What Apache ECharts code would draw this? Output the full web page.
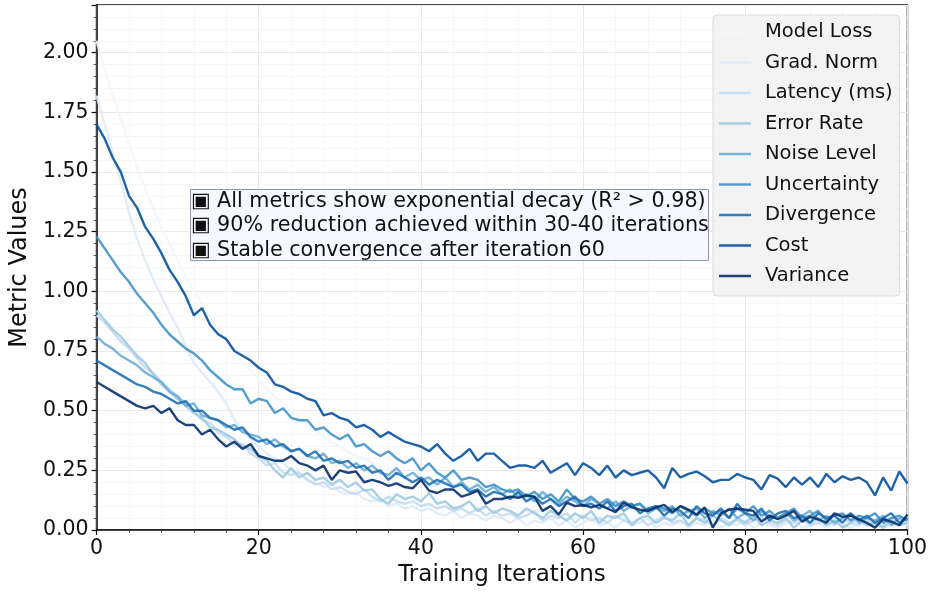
<!DOCTYPE html>
<html>
<head>
<meta charset="utf-8">
<title>Metric convergence</title>
<script src="https://cdn.jsdelivr.net/npm/echarts/dist/echarts.min.js"></script>
<style>
  html, body { margin: 0; padding: 0; background: #fff; }
  #chart { width: 930px; height: 592px; }
</style>
</head>
<body>
<div id="chart"></div>
<script>
// iterations on the x axis
const iterations = [
  0,1,2,3,4,5,6,7,8,9,10,11,12,13,14,15,16,17,18,19,20,21,22,23,24,25,26,27,28,29,
  30,31,32,33,34,35,36,37,38,39,40,41,42,43,44,45,46,47,48,49,50,51,52,53,54,55,56,57,58,59,
  60,61,62,63,64,65,66,67,68,69,70,71,72,73,74,75,76,77,78,79,80,81,82,83,84,85,86,87,88,89,
  90,91,92,93,94,95,96,97,98,99,100
]

const seriesNames = ['Model Loss', 'Grad. Norm', 'Latency (ms)', 'Error Rate', 'Noise Level',
  'Uncertainty', 'Divergence', 'Cost', 'Variance']

// Blues colormap, light -> dark
const seriesColors = ['#f2f7fd', '#deebf7', '#c6dbef', '#9ecae1', '#6baed6',
  '#4292c6', '#2171b5', '#08519c', '#08306b']

const modelLoss = [2.05,1.93,1.82,1.72,1.62,1.52,1.43,1.35,1.27,1.20,
  1.13,1.06,1.00,0.95,0.89,0.84,0.79,0.75,0.70,0.67,
  0.63,0.59,0.56,0.53,0.50,0.47,0.44,0.42,0.39,0.37,
  0.35,0.33,0.31,0.30,0.28,0.26,0.25,0.24,0.22,0.21,
  0.20,0.18,0.18,0.16,0.16,0.14,0.14,0.12,0.12,0.11,
  0.11,0.09,0.10,0.08,0.09,0.07,0.08,0.06,0.07,0.05,
  0.07,0.05,0.06,0.04,0.06,0.04,0.05,0.03,0.05,0.04,
  0.03,0.05,0.02,0.04,0.03,0.05,0.02,0.04,0.03,0.02,
  0.05,0.03,0.02,0.04,0.06,0.02,0.03,0.05,0.02,0.04,
  0.03,0.05,0.02,0.04,0.03,0.06,0.02,0.04,0.03,0.05,
  0.03]

const gradNorm = [1.82,1.70,1.58,1.46,1.33,1.22,1.13,1.05,0.98,0.91,
  0.85,0.77,0.70,0.66,0.62,0.58,0.53,0.46,0.42,0.38,
  0.35,0.32,0.30,0.28,0.25,0.24,0.21,0.20,0.18,0.19,
  0.16,0.15,0.16,0.13,0.12,0.13,0.10,0.11,0.09,0.10,
  0.08,0.09,0.07,0.06,0.08,0.05,0.07,0.06,0.04,0.06,
  0.05,0.03,0.05,0.02,0.04,0.03,0.05,0.02,0.04,0.01,
  0.03,0.05,0.02,0.03,0.01,0.04,0.02,0.03,0.05,0.01,
  0.03,0.02,0.04,0.01,0.03,0.02,0.04,0.01,0.03,0.02,
  0.04,0.01,0.03,0.02,0.01,0.03,0.04,0.01,0.02,0.03,
  0.01,0.04,0.02,0.01,0.03,0.02,0.04,0.01,0.02,0.03,
  0.02]

const latency = [0.90,0.87,0.83,0.79,0.76,0.72,0.68,0.66,0.62,0.59,
  0.56,0.53,0.50,0.46,0.45,0.41,0.39,0.36,0.36,0.32,
  0.30,0.27,0.28,0.24,0.23,0.24,0.21,0.19,0.20,0.17,
  0.18,0.16,0.15,0.17,0.14,0.12,0.14,0.12,0.11,0.12,
  0.10,0.11,0.09,0.10,0.08,0.09,0.07,0.09,0.06,0.08,
  0.06,0.07,0.05,0.06,0.08,0.04,0.06,0.05,0.07,0.03,
  0.06,0.04,0.05,0.03,0.06,0.04,0.03,0.05,0.02,0.04,
  0.06,0.03,0.04,0.02,0.05,0.04,0.02,0.05,0.03,0.04,
  0.02,0.04,0.05,0.03,0.02,0.04,0.03,0.05,0.02,0.03,
  0.04,0.02,0.05,0.03,0.02,0.04,0.03,0.02,0.05,0.03,
  0.04]

const errorRate = [0.92,0.88,0.84,0.81,0.77,0.73,0.70,0.65,0.61,0.58,
  0.55,0.52,0.49,0.47,0.43,0.42,0.40,0.38,0.35,0.34,
  0.31,0.29,0.25,0.22,0.26,0.22,0.24,0.21,0.22,0.19,
  0.21,0.18,0.20,0.165,0.17,0.13,0.11,0.15,0.13,0.14,
  0.12,0.155,0.11,0.12,0.09,0.10,0.12,0.08,0.10,0.07,
  0.09,0.08,0.06,0.09,0.07,0.05,0.08,0.06,0.04,0.07,
  0.05,0.08,0.03,0.06,0.05,0.07,0.02,0.05,0.06,0.03,
  0.05,0.04,0.07,0.02,0.05,0.03,0.06,0.04,0.02,0.05,
  0.03,0.06,0.02,0.04,0.03,0.05,0.01,0.04,0.03,0.05,
  0.02,0.04,0.01,0.03,0.05,0.02,0.03,0.01,0.04,0.02,
  0.03]

const noiseLevel = [0.81,0.78,0.76,0.73,0.71,0.69,0.66,0.64,0.62,0.58,
  0.56,0.52,0.53,0.48,0.47,0.46,0.43,0.44,0.41,0.40,
  0.39,0.36,0.38,0.35,0.33,0.34,0.31,0.30,0.32,0.28,
  0.29,0.26,0.28,0.25,0.27,0.24,0.23,0.26,0.22,0.24,
  0.21,0.22,0.19,0.22,0.18,0.20,0.17,0.19,0.16,0.18,
  0.15,0.17,0.14,0.15,0.12,0.16,0.13,0.11,0.14,0.12,
  0.10,0.13,0.11,0.09,0.12,0.08,0.10,0.11,0.07,0.09,
  0.08,0.10,0.06,0.08,0.09,0.05,0.08,0.06,0.09,0.05,
  0.07,0.04,0.08,0.06,0.05,0.07,0.04,0.06,0.08,0.04,
  0.06,0.03,0.05,0.07,0.03,0.05,0.04,0.06,0.02,0.05,
  0.04]

const uncertainty = [1.23,1.18,1.13,1.08,1.04,0.99,0.95,0.91,0.86,0.82,
  0.79,0.76,0.74,0.71,0.67,0.64,0.61,0.59,0.59,0.53,
  0.55,0.54,0.49,0.51,0.47,0.46,0.46,0.42,0.43,0.40,
  0.38,0.40,0.35,0.36,0.33,0.31,0.33,0.30,0.28,0.30,
  0.25,0.28,0.24,0.22,0.25,0.21,0.22,0.21,0.18,0.19,
  0.17,0.16,0.17,0.14,0.16,0.13,0.15,0.12,0.17,0.13,
  0.12,0.14,0.11,0.13,0.10,0.12,0.10,0.11,0.08,0.10,
  0.09,0.07,0.10,0.08,0.06,0.09,0.07,0.08,0.05,0.09,
  0.07,0.10,0.06,0.08,0.05,0.07,0.09,0.05,0.06,0.08,
  0.04,0.06,0.07,0.04,0.06,0.05,0.07,0.03,0.05,0.06,
  0.04]

const divergence = [0.71,0.69,0.67,0.65,0.63,0.61,0.60,0.58,0.57,0.55,
  0.53,0.54,0.50,0.50,0.47,0.46,0.44,0.42,0.43,0.39,
  0.37,0.38,0.35,0.36,0.33,0.34,0.31,0.33,0.29,0.30,
  0.28,0.29,0.26,0.27,0.24,0.25,0.21,0.24,0.22,0.20,
  0.22,0.19,0.21,0.195,0.18,0.19,0.16,0.17,0.14,0.16,
  0.15,0.13,0.16,0.12,0.14,0.11,0.13,0.10,0.12,0.14,
  0.10,0.11,0.09,0.12,0.08,0.10,0.11,0.07,0.09,0.10,
  0.06,0.09,0.08,0.05,0.10,0.07,0.06,0.09,0.05,0.11,
  0.07,0.06,0.09,0.04,0.07,0.08,0.05,0.06,0.03,0.07,
  0.05,0.06,0.03,0.07,0.04,0.06,0.03,0.05,0.07,0.03,
  0.05]

const cost = [1.70,1.64,1.56,1.50,1.40,1.35,1.27,1.22,1.16,1.09,
  1.04,0.98,0.90,0.93,0.86,0.82,0.80,0.75,0.73,0.71,
  0.68,0.66,0.61,0.60,0.58,0.57,0.55,0.54,0.48,0.49,
  0.47,0.46,0.43,0.44,0.42,0.39,0.41,0.39,0.37,0.36,
  0.35,0.33,0.36,0.32,0.29,0.31,0.34,0.29,0.32,0.32,
  0.29,0.26,0.27,0.27,0.26,0.29,0.24,0.26,0.28,0.23,
  0.28,0.26,0.23,0.27,0.22,0.25,0.23,0.24,0.25,0.22,
  0.175,0.26,0.22,0.235,0.245,0.225,0.20,0.21,0.21,0.235,
  0.22,0.21,0.17,0.23,0.215,0.18,0.22,0.19,0.22,0.18,
  0.235,0.20,0.225,0.21,0.22,0.20,0.145,0.22,0.165,0.245,
  0.195]

const variance = [0.62,0.60,0.58,0.56,0.54,0.52,0.51,0.52,0.49,0.51,
  0.46,0.44,0.44,0.40,0.42,0.38,0.35,0.37,0.34,0.36,
  0.31,0.30,0.29,0.29,0.31,0.28,0.27,0.25,0.27,0.21,
  0.25,0.24,0.245,0.20,0.21,0.20,0.185,0.195,0.18,0.175,
  0.21,0.165,0.155,0.17,0.17,0.14,0.15,0.165,0.11,0.13,
  0.13,0.14,0.135,0.145,0.14,0.08,0.10,0.065,0.115,0.10,
  0.105,0.095,0.105,0.09,0.075,0.115,0.095,0.085,0.08,0.095,
  0.105,0.075,0.10,0.085,0.065,0.095,0.01,0.07,0.085,0.09,
  0.085,0.08,0.035,0.06,0.045,0.06,0.08,0.035,0.055,0.045,
  0.03,0.07,0.055,0.06,0.045,0.03,0.01,0.045,0.035,0.02,
  0.065]

const seriesValues = [modelLoss, gradNorm, latency, errorRate, noiseLevel,
  uncertainty, divergence, cost, variance]

const notes = [
  '▣ All metrics show exponential decay (R² > 0.98)',
  '▣ 90% reduction achieved within 30-40 iterations',
  '▣ Stable convergence after iteration 60'
]

const fontFamily = 'DejaVu Sans'

const chart = echarts.init(document.getElementById('chart'), null, { renderer: 'canvas' })

const series = seriesNames.map(function (name, i) {
  return {
    name: name,
    type: 'line',
    symbol: 'none',
    animation: false,
    data: iterations.map(function (x, j) { return [x, seriesValues[i][j]] }),
    lineStyle: { color: seriesColors[i], width: 2.4, opacity: 0.9 },
    itemStyle: { color: seriesColors[i] }
  }
})

chart.setOption({
  animation: false,
  textStyle: { fontFamily: fontFamily },
  grid: {
    left: 92,
    right: 22,
    top: 5,
    bottom: 62,
    show: true,
    borderColor: '#111',
    borderWidth: 1.5,
    backgroundColor: 'transparent'
  },
  xAxis: {
    type: 'value',
    min: 0,
    max: 100,
    interval: 20,
    name: 'Training Iterations',
    nameLocation: 'middle',
    nameGap: 33,
    nameTextStyle: { fontSize: 23, color: '#111', fontFamily: fontFamily },
    axisLine: { show: true, lineStyle: { color: '#111', width: 1.5 } },
    axisTick: { show: true, length: 5, lineStyle: { color: '#111', width: 1.2 } },
    minorTick: { show: true, splitNumber: 5, length: 3, lineStyle: { color: '#333', width: 0.8 } },
    axisLabel: { fontSize: 20.5, color: '#111', margin: 8, fontFamily: fontFamily },
    splitLine: { show: true, lineStyle: { color: '#e9e9e9', width: 1 } },
    minorSplitLine: { show: true, lineStyle: { color: '#f5f5f5', width: 0.8 } }
  },
  yAxis: {
    type: 'value',
    min: 0,
    max: 2.2,
    interval: 0.25,
    name: 'Metric Values',
    nameLocation: 'middle',
    nameGap: 53,
    nameTextStyle: { fontSize: 24, color: '#111', fontFamily: fontFamily },
    axisLine: { show: true, lineStyle: { color: '#111', width: 1.5 } },
    axisTick: { show: true, length: 5, lineStyle: { color: '#111', width: 1.2 } },
    minorTick: { show: true, splitNumber: 5, length: 3, lineStyle: { color: '#333', width: 0.8 } },
    axisLabel: {
      fontSize: 20.5,
      color: '#111',
      margin: 8,
      fontFamily: fontFamily,
      showMaxLabel: false,
      formatter: function (v) { return v.toFixed(2) }
    },
    splitLine: { show: true, lineStyle: { color: '#e9e9e9', width: 1 } },
    minorSplitLine: { show: true, lineStyle: { color: '#f5f5f5', width: 0.8 } }
  },
  legend: {
    orient: 'vertical',
    left: 713,
    top: 15,
    padding: [7, 7, 10, 6],
    icon: 'rect',
    itemWidth: 32,
    itemHeight: 2.5,
    itemGap: 10.5,
    itemStyle: { opacity: 0.9 },
    backgroundColor: 'rgba(242,242,242,0.92)',
    borderColor: '#dddddd',
    borderWidth: 1,
    borderRadius: 4,
    textStyle: { fontSize: 19.5, color: '#111', lineHeight: 20, fontFamily: fontFamily, padding: [0, 0, 0, 9] },
    data: seriesNames
  },
  graphic: [
    {
      type: 'rect',
      left: 190,
      top: 189,
      shape: { width: 518, height: 71 },
      style: { fill: 'rgba(244,248,254,0.95)', stroke: '#8797b0', lineWidth: 1 },
      z: 100
    },
    {
      type: 'text',
      left: 191,
      top: 189,
      style: {
        text: notes.join('\n'),
        font: '20.7px "DejaVu Sans"',
        fill: '#111',
        lineHeight: 24.6
      },
      z: 101
    }
  ],
  series: series
})
</script>
</body>
</html>
